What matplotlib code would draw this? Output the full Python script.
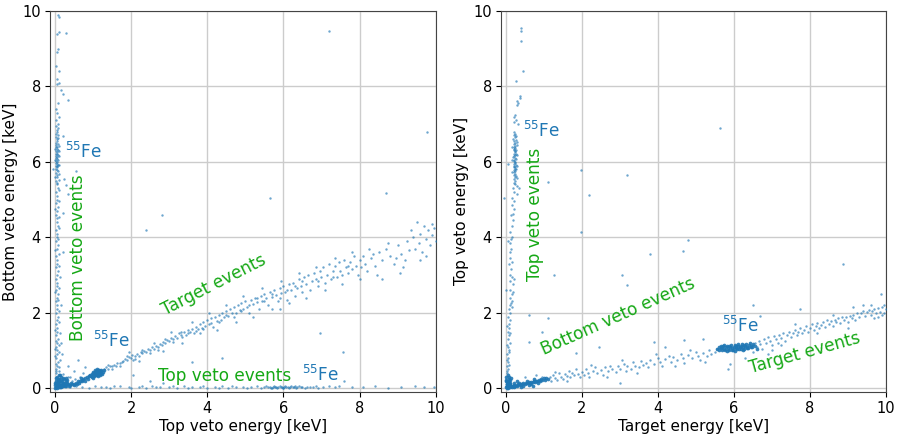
import matplotlib
matplotlib.use("Agg")
import matplotlib.pyplot as plt

# ---- left panel: top veto energy (x) vs bottom veto energy (y), keV ----
left_bottom_veto = [
    (0.08, 9.9), (0.1, 9.85), (0.12, 9.45), (0.3, 9.42), (0.06, 9.38), (0.07, 9.0), (0.05, 8.9),
    (0.04, 8.55), (0.1, 8.4), (0.06, 8.2), (0.12, 8.1), (0.05, 8.05), (0.15, 7.9), (0.2, 7.8),
    (0.35, 7.65), (0.08, 7.55), (0.03, 7.4), (0.06, 7.3), (0.1, 7.2), (0.04, 7.1), (0.07, 7.0),
    (0.02, 6.95), (0.09, 6.9), (0.05, 6.85), (0.06, 6.8), (0.03, 6.75), (0.08, 6.7), (0.2, 6.68),
    (0.04, 6.65), (0.06, 6.6), (0.05, 6.55), (0.02, 6.5), (0.07, 6.48), (0.04, 6.45), (0.06, 6.4),
    (0.03, 6.38), (0.05, 6.35), (0.08, 6.3), (0.04, 6.28), (0.06, 6.25), (0.02, 6.22), (0.05, 6.2),
    (0.07, 6.18), (0.03, 6.15), (0.06, 6.12), (0.04, 6.1), (0.05, 6.08), (0.09, 6.05), (0.03, 6.02),
    (0.06, 6.0), (0.04, 5.98), (0.05, 5.95), (0.07, 5.92), (0.02, 5.9), (0.05, 5.88), (0.06, 5.85),
    (0.04, 5.82), (-0.05, 5.8), (0.05, 5.78), (0.07, 5.75), (0.03, 5.7), (0.55, 5.75), (0.05, 5.65),
    (0.06, 5.6), (0.25, 5.55), (0.04, 5.5), (0.06, 5.45), (0.05, 5.4), (0.07, 5.3), (0.3, 5.38),
    (0.04, 5.2), (0.06, 5.1), (0.35, 5.15), (0.05, 5.0), (0.03, 4.9), (0.07, 4.8), (0.05, 4.7),
    (0.2, 4.65), (0.04, 4.6), (0.06, 4.5), (0.05, 4.4), (0.08, 4.3), (0.03, 4.2), (0.06, 4.1),
    (0.05, 4.0), (0.04, 3.9), (0.07, 3.8), (0.05, 3.7), (0.2, 3.6), (0.03, 3.5), (0.06, 3.4),
    (0.05, 3.3), (0.04, 3.2), (0.07, 3.1), (0.05, 3.0), (0.03, 2.9), (0.06, 2.8), (0.05, 2.7),
    (0.04, 2.6), (0.07, 2.5), (0.05, 2.4), (0.03, 2.3), (0.06, 2.2), (0.05, 2.1), (0.04, 2.0),
    (0.08, 1.9), (0.05, 1.8), (0.03, 1.7), (0.06, 1.6), (0.05, 1.5), (0.04, 1.4), (0.07, 1.3),
    (0.05, 1.2), (0.03, 1.1), (0.06, 1.0), (0.05, 0.9), (0.04, 0.8), (0.07, 0.7), (0.05, 0.6),
    (0.03, 0.5), (0.02, 1.25), (0.01, 0.85), (0.03, 0.65), (0.02, 0.45),
    (0.1, 6.42), (0.11, 6.15), (0.12, 5.92), (0.1, 5.68), (0.11, 5.52), (0.09, 6.62), (0.12, 6.28),
    (0.0, 6.05), (0.01, 5.6), (0.0, 6.35), (0.1, 5.25), (0.12, 4.95), (0.1, 4.55), (0.11, 4.25),
    (0.09, 3.95), (0.12, 3.55), (0.1, 3.25), (0.13, 2.95), (0.11, 2.65), (0.09, 2.35), (0.12, 2.05),
    (0.1, 1.75), (0.13, 1.45), (0.11, 1.15), (0.12, 0.95), (0.14, 0.75), (0.1, 0.55), (0.0, 4.75),
    (0.01, 3.65), (0.0, 2.55), (0.01, 1.55), (0.0, 1.05), (0.16, 2.2), (0.15, 1.2), (0.18, 0.9),
]
left_origin = [
    (0.02, 0.02), (0.05, 0.05), (0.1, 0.03), (0.08, 0.12), (0.15, 0.08), (0.2, 0.15), (0.03, 0.2),
    (0.12, 0.25), (0.25, 0.1), (0.3, 0.05), (0.18, 0.18), (0.06, 0.3), (0.1, 0.35), (0.22, 0.05),
    (0.35, 0.12), (0.4, 0.08), (0.05, 0.1), (0.14, 0.14), (0.28, 0.2), (0.01, 0.08), (0.09, 0.06),
    (0.17, 0.02), (0.24, 0.24), (0.32, 0.15), (0.45, 0.1), (0.5, 0.12), (0.55, 0.15), (0.6, 0.18),
    (0.65, 0.2), (0.7, 0.22), (0.75, 0.25), (0.8, 0.28), (0.85, 0.3), (0.5, 0.08), (0.62, 0.14),
    (0.72, 0.2), (0.04, 0.15), (0.11, 0.19), (0.13, 0.04), (0.2, 0.1), (0.26, 0.06), (0.07, 0.25),
    (0.16, 0.3), (0.3, 0.28), (0.38, 0.05), (0.42, 0.14), (0.58, 0.1), (0.68, 0.26), (0.78, 0.18),
    (0.88, 0.24), (0.0, 0.0), (0.06, 0.0), (0.12, 0.08), (0.04, 0.28), (0.08, 0.2), (0.16, 0.22),
    (0.22, 0.28), (0.27, 0.14), (0.33, 0.22), (0.19, 0.07), (0.09, 0.15), (0.01, 0.14), (0.14, 0.35),
]
left_origin_halo = [
    (0.02, 0.4), (0.1, 0.45), (0.2, 0.38), (0.35, 0.3), (0.6, 0.75), (0.8, 0.55), (0.35, 0.6),
    (0.45, 0.2), (0.52, 0.25), (0.4, 0.3), (0.66, 0.3), (0.9, 0.35), (0.75, 0.4), (0.5, 0.45),
]
left_fe_blob = [
    (0.95, 0.33), (1.0, 0.35), (1.05, 0.38), (1.1, 0.4), (1.15, 0.42), (1.2, 0.45), (1.0, 0.4),
    (1.05, 0.43), (1.1, 0.36), (1.15, 0.38), (1.2, 0.4), (1.25, 0.44), (0.98, 0.38), (1.02, 0.31),
    (1.08, 0.45), (1.12, 0.47), (1.18, 0.35), (1.22, 0.49), (0.92, 0.36), (1.03, 0.41), (1.07, 0.34),
    (1.13, 0.44), (1.17, 0.41), (1.09, 0.39), (1.11, 0.42), (1.06, 0.4), (1.14, 0.37), (1.01, 0.44),
    (1.19, 0.46), (0.97, 0.3), (1.04, 0.36), (1.16, 0.48), (1.12, 0.33), (1.08, 0.42), (0.9, 0.32),
    (1.28, 0.47), (1.24, 0.38), (1.0, 0.28), (1.1, 0.5), (1.05, 0.47),
]
left_target = [
    (1.3, 0.5), (1.35, 0.55), (1.4, 0.52), (1.45, 0.6), (1.5, 0.58), (1.55, 0.62), (1.6, 0.6),
    (1.62, 0.68), (1.7, 0.66), (1.75, 0.7), (1.8, 0.72), (1.85, 0.78), (1.9, 0.76), (1.95, 0.82),
    (2.0, 0.8), (2.02, 0.88), (2.05, 0.75), (2.1, 0.85), (2.15, 0.9), (2.2, 0.86), (2.25, 0.95),
    (2.3, 0.92), (2.35, 0.98), (2.4, 0.96), (2.45, 1.05), (2.5, 1.0), (2.55, 1.08), (2.6, 1.04),
    (2.65, 1.12), (2.7, 1.1), (2.75, 1.18), (2.8, 1.14), (2.85, 1.22), (2.9, 1.2), (2.95, 1.28),
    (3.0, 1.24), (3.05, 1.32), (3.1, 1.3), (3.15, 1.38), (3.2, 1.34), (3.25, 1.45), (3.3, 1.4),
    (3.35, 1.35), (3.4, 1.48), (3.45, 1.42), (3.5, 1.55), (3.55, 1.5), (3.6, 1.58), (3.65, 1.45),
    (3.7, 1.62), (3.75, 1.56), (3.8, 1.7), (3.85, 1.6), (3.9, 1.75), (3.95, 1.65), (4.0, 1.8),
    (4.05, 1.7), (4.1, 1.85), (4.15, 1.62), (4.2, 1.9), (4.25, 1.78), (4.3, 1.95), (4.35, 1.82),
    (4.4, 2.0), (4.45, 1.88), (4.5, 2.05), (4.55, 1.92), (4.6, 2.1), (4.65, 1.98), (4.7, 2.15),
    (4.75, 2.0), (4.8, 2.2), (4.85, 2.08), (4.9, 2.25), (4.95, 2.1), (5.0, 2.3), (5.05, 2.15),
    (5.1, 2.0), (5.15, 2.35), (5.2, 2.22), (5.25, 2.4), (5.3, 2.28), (5.35, 2.1), (5.4, 2.45),
    (5.45, 2.32), (5.5, 2.5), (5.55, 2.38), (5.6, 2.2), (5.65, 2.55), (5.7, 2.42), (5.75, 2.6),
    (5.8, 2.48), (5.85, 2.3), (5.9, 2.65), (5.95, 2.52), (6.0, 2.7), (6.05, 2.55), (6.1, 2.35),
    (6.15, 2.75), (6.2, 2.6), (6.25, 2.8), (6.3, 2.45), (6.35, 2.65), (6.4, 2.9), (6.45, 2.7),
    (6.5, 2.55), (6.55, 2.95), (6.6, 2.75), (6.65, 3.0), (6.7, 2.6), (6.75, 2.85), (6.8, 3.05),
    (6.85, 2.9), (6.9, 2.7), (6.95, 3.1), (7.0, 2.95), (7.05, 3.2), (7.1, 2.8), (7.15, 3.0),
    (7.2, 3.3), (7.25, 2.9), (7.3, 3.1), (7.35, 3.25), (7.4, 2.95), (7.45, 3.35), (7.5, 3.1),
    (7.55, 3.0), (7.6, 3.4), (7.65, 3.2), (7.7, 3.05), (7.75, 3.35), (7.8, 3.15), (7.85, 3.5),
    (7.9, 3.25), (7.95, 3.0), (8.0, 3.4), (8.05, 3.2), (8.1, 3.5), (8.15, 3.3), (8.2, 3.1),
    (8.3, 3.45), (8.4, 3.25), (8.5, 3.6), (8.6, 3.4), (8.7, 3.7), (8.8, 3.5), (8.9, 3.3),
    (9.0, 3.8), (9.1, 3.55), (9.2, 3.4), (9.25, 3.9), (9.3, 3.65), (9.4, 4.0), (9.45, 3.7),
    (9.5, 4.4), (9.55, 3.85), (9.6, 4.1), (9.65, 3.6), (9.7, 4.3), (9.75, 3.95), (9.8, 4.2),
    (9.85, 3.8), (9.9, 4.05), (9.95, 4.25), (10.0, 3.9), (8.95, 3.45), (9.15, 3.2),
    (1.4, 0.62), (1.5, 0.5), (1.7, 0.6), (1.9, 0.85), (2.1, 0.78), (2.3, 1.0), (2.5, 0.92),
    (2.7, 1.02), (2.9, 1.3), (3.1, 1.22), (3.3, 1.5), (3.5, 1.45), (3.7, 1.52), (3.9, 1.58),
    (4.1, 1.72), (4.3, 1.75), (4.5, 1.95), (4.7, 1.9), (4.9, 2.05), (5.1, 2.2), (5.3, 2.4),
    (5.5, 2.3), (5.7, 2.5), (5.9, 2.4), (6.1, 2.6), (6.3, 2.7), (6.5, 2.85), (6.9, 2.85),
    (7.3, 2.95), (7.7, 3.25),
    (1.95, 0.95), (2.2, 0.72), (2.6, 1.2), (2.85, 0.98), (3.05, 1.5), (3.35, 1.2), (3.6, 1.75),
    (3.8, 1.45), (4.05, 2.0), (4.25, 1.55), (4.5, 2.2), (4.75, 1.75), (4.95, 2.45), (5.2, 1.9),
    (5.45, 2.65), (5.7, 2.1), (5.95, 2.85), (6.15, 2.25), (6.4, 3.05), (6.6, 2.4), (6.85, 3.2),
    (7.1, 2.6), (7.35, 3.45), (7.55, 2.75), (7.8, 3.6), (8.0, 2.9), (8.25, 3.7), (8.45, 3.0),
    (8.75, 3.85), (9.05, 3.05), (9.35, 4.2), (9.6, 3.4), (9.9, 4.35), (9.75, 3.5), (8.35, 3.55),
]
left_top_veto = [
    (0.4, 0.02), (0.7, 0.04), (0.9, 0.01), (1.2, 0.03), (1.45, 0.0), (1.7, 0.05), (1.95, 0.02),
    (2.2, 0.04), (2.4, 0.0), (2.55, 0.06), (2.75, 0.02), (2.85, 0.15), (3.0, 0.03), (3.2, 0.01),
    (3.4, 0.05), (3.6, 0.02), (3.8, 0.04), (4.0, 0.0), (4.2, 0.03), (4.4, 0.05), (4.55, 0.01),
    (4.75, 0.04), (4.95, 0.02), (5.15, 0.03), (5.3, 0.05), (5.42, 0.01), (5.5, 0.03), (5.55, 0.05),
    (5.6, 0.02), (5.64, 0.04), (5.68, 0.01), (5.72, 0.03), (5.75, 0.05), (5.78, 0.02), (5.81, 0.04),
    (5.84, 0.01), (5.87, 0.03), (5.9, 0.05), (5.93, 0.02), (5.96, 0.04), (5.99, 0.01), (6.02, 0.03),
    (6.05, 0.05), (6.08, 0.02), (6.11, 0.04), (6.14, 0.01), (6.17, 0.03), (6.2, 0.05), (6.24, 0.02),
    (6.28, 0.04), (6.32, 0.01), (6.36, 0.03), (6.4, 0.05), (6.45, 0.02), (6.5, 0.04), (6.56, 0.01),
    (6.62, 0.03), (6.7, 0.02), (6.78, 0.04), (6.9, 0.01), (7.05, 0.03), (7.2, 0.06), (7.35, 0.02),
    (7.6, 0.2), (7.8, 0.04), (8.1, 0.02), (8.4, 0.05), (8.75, 0.01), (9.1, 0.03), (9.45, 0.06),
    (9.7, 0.02), (9.95, 0.04), (5.7, 0.0), (6.0, 0.0), (6.3, 0.06), (0.55, 0.06), (1.05, 0.05),
    (1.35, 0.02), (1.55, 0.06), (2.0, 0.0), (2.3, 0.07), (2.65, 0.04), (3.1, 0.07), (3.5, 0.0),
    (3.9, 0.06), (4.3, 0.01), (4.65, 0.07), (5.05, 0.0), (6.85, 0.06), (7.45, 0.05), (2.5, 0.2),
]
left_outliers = [
    (7.2, 9.47), (9.76, 6.8), (8.7, 5.18), (5.64, 5.05), (2.8, 4.58), (2.38, 4.2), (6.96, 1.45),
    (7.56, 0.95), (4.4, 0.8), (2.05, 0.35), (3.6, 0.7), (5.9, 2.1), (8.6, 2.9),
]

# ---- right panel: target energy (x) vs top veto energy (y), keV ----
right_top_veto = [
    (0.39, 9.55), (0.4, 9.48), (0.4, 9.2), (0.45, 8.42), (0.26, 8.15), (0.38, 7.75), (0.36, 7.7),
    (0.3, 7.6), (0.33, 7.55), (0.28, 7.5), (0.24, 7.25), (0.22, 7.2), (0.27, 7.1), (0.2, 7.05),
    (0.32, 7.0), (0.22, 6.8), (0.25, 6.75), (0.2, 6.7), (0.27, 6.68), (0.23, 6.65), (0.19, 6.6),
    (0.26, 6.58), (0.22, 6.55), (0.24, 6.5), (0.2, 6.48), (0.28, 6.45), (0.23, 6.42), (0.21, 6.4),
    (0.25, 6.37), (0.22, 6.35), (0.26, 6.32), (0.2, 6.3), (0.24, 6.28), (0.23, 6.25), (0.27, 6.22),
    (0.21, 6.2), (0.25, 6.18), (0.22, 6.15), (0.19, 6.12), (0.24, 6.1), (0.26, 6.08), (0.22, 6.05),
    (0.2, 6.02), (0.25, 6.0), (0.23, 5.98), (0.21, 5.95), (0.27, 5.92), (0.22, 5.9), (0.24, 5.87),
    (0.2, 5.85), (0.26, 5.82), (0.23, 5.8), (0.21, 5.77), (0.25, 5.75), (0.22, 5.72), (0.24, 5.68),
    (0.2, 5.65), (0.26, 5.62), (0.23, 5.6), (0.21, 5.55), (0.25, 5.5), (0.22, 5.45), (0.24, 5.4),
    (0.3, 5.35), (0.18, 5.3), (0.35, 5.3), (0.2, 5.2), (0.28, 5.15), (0.15, 5.05), (0.22, 4.95),
    (0.17, 4.85), (0.2, 4.75), (0.14, 4.6), (0.18, 4.45), (0.15, 4.3), (0.12, 4.15), (0.16, 4.0),
    (0.1, 3.85), (0.14, 3.7), (0.12, 3.6), (0.1, 3.45), (0.08, 3.3), (0.13, 3.15), (0.11, 3.0),
    (0.15, 2.95), (0.2, 2.9), (0.12, 2.85), (0.18, 2.75), (0.1, 2.6), (0.15, 2.5), (0.12, 2.4),
    (0.17, 2.3), (0.14, 2.25), (0.1, 2.2), (0.08, 2.1), (0.12, 2.0), (0.06, 1.9), (0.1, 1.8),
    (0.07, 1.7), (0.09, 1.6), (0.05, 1.5), (0.08, 1.4), (0.06, 1.3), (0.1, 1.2), (0.05, 1.1),
    (0.07, 1.0), (0.04, 0.9), (0.06, 0.8), (0.05, 0.7), (0.03, 0.6), (0.06, 0.5), (0.04, 0.45),
    (0.02, 0.4), (-0.05, 5.03), (0.05, 5.95),
    (0.29, 6.52), (0.3, 6.18), (0.29, 5.88), (0.28, 5.58), (0.17, 6.38), (0.16, 6.05), (0.17, 5.72),
    (0.19, 4.62), (0.13, 3.95), (0.16, 3.35), (0.18, 2.55), (0.15, 2.15), (0.03, 1.65), (0.12, 1.45),
    (0.02, 1.15), (0.09, 0.95), (0.02, 0.75), (0.08, 0.62), (0.01, 2.6), (0.05, 3.9),
]
right_origin = [
    (0.0, 0.02), (0.03, 0.05), (0.06, 0.01), (0.02, 0.1), (0.08, 0.06), (0.05, 0.15), (0.1, 0.03),
    (0.12, 0.1), (0.04, 0.2), (0.07, 0.25), (0.01, 0.3), (0.09, 0.18), (0.14, 0.05), (0.03, 0.12),
    (0.06, 0.08), (0.11, 0.14), (0.0, 0.18), (0.05, 0.35), (0.02, 0.06), (0.08, 0.3), (0.15, 0.02),
    (0.18, 0.06), (0.2, 0.04), (0.22, 0.08), (0.25, 0.06), (0.28, 0.09), (0.3, 0.07), (0.33, 0.1),
    (0.36, 0.09), (0.4, 0.12), (0.43, 0.1), (0.46, 0.13), (0.5, 0.12), (0.53, 0.15), (0.56, 0.13),
    (0.6, 0.16), (0.63, 0.14), (0.66, 0.17), (0.7, 0.16), (0.73, 0.19), (0.76, 0.17), (0.8, 0.2),
    (0.83, 0.18), (0.86, 0.22), (0.9, 0.2), (0.93, 0.24), (0.96, 0.22), (1.0, 0.26), (1.03, 0.23),
    (1.06, 0.27), (1.1, 0.25), (0.35, 0.15), (0.45, 0.05), (0.55, 0.2), (0.65, 0.1), (0.75, 0.25),
    (0.85, 0.14), (0.3, 0.2), (0.2, 0.15), (0.4, 0.02), (0.6, 0.08),
    (0.7, 0.05), (0.04, 0.0), (0.1, 0.22), (0.13, 0.28), (0.01, 0.22), (0.07, 0.12),
]
right_origin_halo = [(0.95, 0.3), (0.5, 0.3), (0.8, 0.35)]
right_target = [
    (1.15, 0.3), (1.2, 0.2), (1.25, 0.35), (1.3, 0.28), (1.35, 0.22), (1.4, 0.4), (1.45, 0.3),
    (1.5, 0.25), (1.55, 0.38), (1.6, 0.32), (1.65, 0.45), (1.7, 0.3), (1.75, 0.4), (1.8, 0.35),
    (1.85, 0.5), (1.9, 0.38), (1.95, 0.3), (2.0, 0.42), (2.05, 0.35), (2.1, 0.5), (2.15, 0.4),
    (2.2, 0.3), (2.3, 0.45), (2.35, 0.55), (2.4, 0.4), (2.5, 0.48), (2.55, 0.35), (2.6, 0.55),
    (2.7, 0.45), (2.75, 0.6), (2.8, 0.5), (2.9, 0.42), (2.95, 0.6), (3.0, 0.52), (3.1, 0.65),
    (3.15, 0.45), (3.2, 0.58), (3.3, 0.5), (3.35, 0.7), (3.4, 0.6), (3.5, 0.55), (3.55, 0.72),
    (3.6, 0.62), (3.7, 0.68), (3.75, 0.55), (3.8, 0.75), (3.9, 0.65), (4.0, 0.8), (4.05, 0.7),
    (4.1, 0.6), (4.2, 0.78), (4.3, 0.85), (4.35, 0.7), (4.4, 0.82), (4.5, 0.75), (4.6, 0.9),
    (4.65, 0.8), (4.7, 0.68), (4.8, 0.88), (4.9, 0.8), (5.0, 0.95), (5.05, 0.85), (5.1, 0.75),
    (5.2, 0.92), (5.3, 0.85), (5.35, 1.0), (5.4, 0.9), (5.5, 0.95), (5.55, 1.05),
    (6.5, 1.15), (6.55, 1.2), (6.6, 1.1), (6.65, 1.25), (6.7, 1.18), (6.75, 1.05), (6.8, 1.3),
    (6.85, 1.2), (6.9, 1.35), (6.95, 1.25), (7.0, 1.15), (7.05, 1.38), (7.1, 1.3), (7.15, 1.2),
    (7.2, 1.4), (7.25, 1.32), (7.3, 1.45), (7.35, 1.25), (7.4, 1.4), (7.45, 1.5), (7.5, 1.35),
    (7.55, 1.45), (7.6, 1.55), (7.65, 1.4), (7.7, 1.5), (7.75, 1.6), (7.8, 1.45), (7.85, 1.55),
    (7.9, 1.65), (7.95, 1.5), (8.0, 1.6), (8.05, 1.7), (8.1, 1.55), (8.15, 1.65), (8.2, 1.72),
    (8.25, 1.6), (8.3, 1.68), (8.35, 1.75), (8.4, 1.62), (8.45, 1.8), (8.5, 1.7), (8.55, 1.78),
    (8.6, 1.65), (8.65, 1.82), (8.7, 1.75), (8.75, 1.85), (8.8, 1.72), (8.85, 1.9), (8.9, 1.8),
    (8.95, 1.88), (9.0, 1.75), (9.05, 1.92), (9.1, 1.85), (9.15, 1.95), (9.2, 1.82), (9.25, 2.0),
    (9.3, 1.9), (9.35, 1.98), (9.4, 2.05), (9.45, 1.92), (9.5, 2.02), (9.55, 2.08), (9.6, 1.95),
    (9.65, 2.05), (9.7, 2.1), (9.75, 1.98), (9.8, 2.12), (9.85, 2.02), (9.9, 2.15), (9.95, 2.0),
    (10.0, 2.1), (9.6, 2.2), (9.8, 1.9), (9.9, 1.95), (9.95, 2.2),
    (6.3, 0.8), (5.9, 0.65), (5.85, 0.5), (6.5, 0.95), (6.9, 0.9), (7.0, 1.0),
    (1.3, 0.42), (1.6, 0.2), (2.25, 0.62), (2.65, 0.3), (3.05, 0.75), (3.45, 0.4), (3.95, 0.9),
    (4.45, 0.6), (4.85, 1.02), (5.25, 0.7), (7.25, 1.15), (7.6, 1.7), (8.2, 1.45), (8.6, 1.95),
    (9.0, 1.6), (9.4, 2.2), (9.7, 1.85),
]
right_fe_blob = [
    (5.6, 1.02), (5.62, 1.1), (5.65, 1.06), (5.68, 1.0), (5.7, 1.08), (5.72, 1.12), (5.75, 1.04),
    (5.78, 1.0), (5.8, 1.08), (5.82, 1.13), (5.85, 1.05), (5.88, 1.01), (5.9, 1.09), (5.92, 1.14),
    (5.95, 1.06), (5.98, 1.02), (6.0, 1.1), (6.02, 1.15), (6.05, 1.07), (6.08, 1.03), (6.1, 1.11),
    (6.12, 1.16), (6.15, 1.08), (6.18, 1.04), (6.2, 1.12), (6.22, 1.17), (6.25, 1.09), (6.28, 1.05),
    (6.3, 1.13), (6.32, 1.18), (6.35, 1.1), (6.38, 1.07), (6.4, 1.15), (6.42, 1.2), (6.45, 1.12),
    (6.48, 1.09), (6.5, 1.16), (5.66, 1.12), (5.74, 1.14), (5.86, 1.11), (5.94, 1.0), (6.06, 1.12),
    (6.14, 1.03), (6.26, 1.14), (6.34, 1.06), (6.44, 1.08), (5.83, 0.98), (6.03, 0.99), (6.23, 1.01),
    (6.55, 1.12), (6.6, 1.05), (5.55, 1.05),
]
right_outliers = [
    (5.63, 6.9), (1.1, 5.47), (1.97, 5.77), (2.2, 5.12), (3.2, 5.65), (1.97, 4.15), (3.8, 3.55),
    (4.8, 3.93), (4.65, 3.63), (3.05, 3.0), (3.2, 2.73), (1.26, 3.0), (8.87, 3.28), (6.5, 2.2),
    (6.7, 1.92), (0.6, 1.95), (1.1, 1.85), (7.75, 2.1), (9.87, 2.5), (9.13, 2.15), (0.95, 1.5),
    (0.6, 1.22), (3.9, 1.22), (4.68, 1.27), (2.45, 1.08), (1.84, 0.93), (3.0, 0.15), (5.2, 1.3),
    (4.2, 1.1),
]

blue = "#1f77b4"
green = "#15a815"
fe = r"$^{55}$Fe"

fig = plt.figure(figsize=(8.97, 4.36), dpi=100)
ax1 = fig.add_axes([0.0557, 0.101, 0.430, 0.874])
ax2 = fig.add_axes([0.5585, 0.101, 0.429, 0.874])


def draw(ax, groups, dense):
    for pts in groups:
        xs, ys = zip(*pts)
        ax.scatter(xs, ys, s=3, color=blue, alpha=0.65, linewidths=0, zorder=3)
    for pts in dense:
        xs, ys = zip(*pts)
        ax.scatter(xs, ys, s=7, color=blue, alpha=0.9, linewidths=0, zorder=3)
    ax.set_xlim(-0.13, 10)
    ax.set_ylim(-0.1, 10)
    ax.set_xticks([0, 2, 4, 6, 8, 10])
    ax.set_yticks([0, 2, 4, 6, 8, 10])
    ax.grid(True, color="#cccccc", lw=1, zorder=0)
    ax.set_axisbelow(True)
    ax.tick_params(labelsize=10.5, length=3.5, pad=3)
    for sp in ax.spines.values():
        sp.set_color("#444444")


draw(ax1, [left_bottom_veto, left_target, left_top_veto, left_outliers, left_origin_halo],
     [left_fe_blob, left_origin])
draw(ax2, [right_top_veto, right_target, right_outliers, right_origin_halo],
     [right_fe_blob, right_origin])

ax1.set_xlabel("Top veto energy [keV]", fontsize=11, labelpad=2)
ax1.set_ylabel("Bottom veto energy [keV]", fontsize=11, labelpad=3)
ax2.set_xlabel("Target energy [keV]", fontsize=11, labelpad=2)
ax2.set_ylabel("Top veto energy [keV]", fontsize=11, labelpad=3)

kw = dict(rotation_mode="anchor", va="baseline", ha="left", fontsize=12.2)
ax1.text(0.26, 6.1, fe, color=blue, **kw)
ax1.text(0.75, 1.26, "Bottom veto events", color=green, rotation=90, **kw)
ax1.text(1.0, 1.08, fe, color=blue, **kw)
ax1.text(2.9, 1.92, "Target events", color=green, rotation=27, **kw)
ax1.text(2.7, 0.2, "Top veto events", color=green, **kw)
ax1.text(6.5, 0.2, fe, color=blue, **kw)

ax2.text(0.45, 6.66, fe, color=blue, **kw)
ax2.text(0.9, 2.85, "Top veto events", color=green, rotation=90, **kw)
ax2.text(1.0, 0.87, "Bottom veto events", color=green, rotation=24, **kw)
ax2.text(5.7, 1.5, fe, color=blue, **kw)
ax2.text(6.45, 0.39, "Target events", color=green, rotation=15.5, **kw)

fig.savefig("out.png", dpi=100)
